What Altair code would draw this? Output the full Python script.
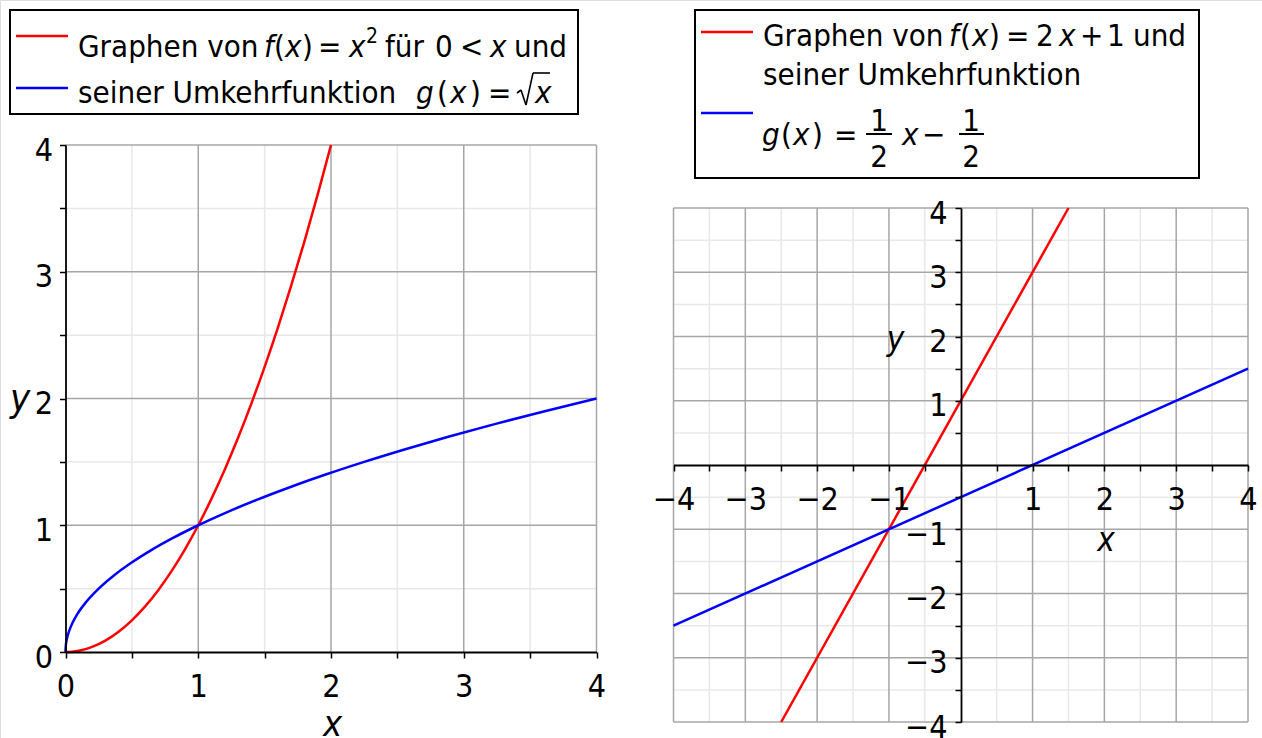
import altair as alt
import pandas as pd

FONT = "'Liberation Sans Narrow', 'DejaVu Sans Condensed', sans-serif"
TXT = 31      # legend text
LBL = 32      # tick labels

# ---- data -------------------------------------------------------------
# g(x) = sqrt(x) on [0, 4]; the parabola f(x) = x^2 on [0, 2] is the same point set mirrored
root_x = [0, 0.0025, 0.01, 0.0225, 0.04, 0.09, 0.16, 0.25, 0.36, 0.49, 0.64, 0.81,
          1.0, 1.21, 1.44, 1.69, 1.96, 2.25, 2.56, 2.89, 3.24, 3.61, 4.0]
root_y = [0, 0.05, 0.1, 0.15, 0.2, 0.3, 0.4, 0.5, 0.6, 0.7, 0.8, 0.9,
          1.0, 1.1, 1.2, 1.3, 1.4, 1.5, 1.6, 1.7, 1.8, 1.9, 2.0]

# f(x) = 2x + 1 and g(x) = x/2 - 1/2, clipped to the [-4, 4] window
lin_f_x = [-2.5, 1.5]
lin_f_y = [-4, 4]
lin_g_x = [-4, 4]
lin_g_y = [-2.5, 1.5]

# axis ticks and grid lines
left_ticks = [0, 0.5, 1, 1.5, 2, 2.5, 3, 3.5, 4]
left_major = [1, 2, 3, 4]
left_minor = [0.5, 1.5, 2.5, 3.5]
right_ticks = [-4, -3.5, -3, -2.5, -2, -1.5, -1, -0.5, 0.5, 1, 1.5, 2, 2.5, 3, 3.5, 4]
right_major = [-4, -3, -2, -1, 1, 2, 3, 4]
right_minor = [-3.5, -2.5, -1.5, -0.5, 0.5, 1.5, 2.5, 3.5]

RED = "#ff0000"
BLUE = "#0000ff"
MAJOR = "#a6a6a6"
MINOR = "#e8e8e8"


def make_axis(orient, ticks, offset, title, tx, ty, tsize, pad, loff=0):
    base = dict(
        orient=orient, values=ticks, offset=offset,
        labelExpr="datum.value % 1 === 0 ? format(datum.value, 'd') : ''",
        grid=False, zindex=1,
        domainColor="black", domainWidth=1.8,
        tickColor="black", tickWidth=1.5, tickSize=6,
        labelFont=FONT, labelFontSize=LBL, labelColor="black",
        labelPadding=pad, labelOverlap=False, labelFlush=False, labelBound=False,
        title=title, titleFont=FONT, titleFontSize=tsize, titleFontStyle="italic",
        titleFontWeight="normal", titleColor="black", titleAngle=0,
        titleX=tx, titleY=ty, titleAlign="center", titleBaseline="alphabetic",
    )
    if orient == "left":
        base.update(labelAlign="right", labelBaseline="middle", labelOffset=loff)
    return alt.Axis(**base)


def panel(xs, ys, xa, ya, major, minor, lo, hi, curves):
    layers = []
    for vals, col in ((minor, MINOR), (major, MAJOR)):
        g = pd.DataFrame({"v": vals, "lo": [lo] * len(vals), "hi": [hi] * len(vals)})
        layers.append(
            alt.Chart(g).mark_rule(color=col, strokeWidth=1.5).encode(
                x=alt.X("v:Q", scale=xs, axis=xa),
                y=alt.Y("lo:Q", scale=ys, axis=ya),
                y2="hi:Q",
            )
        )
        layers.append(
            alt.Chart(g).mark_rule(color=col, strokeWidth=1.5).encode(
                y=alt.Y("v:Q", scale=ys, axis=ya),
                x=alt.X("lo:Q", scale=xs, axis=xa),
                x2="hi:Q",
            )
        )
    for cx, cy, col in curves:
        d = pd.DataFrame({"x": cx, "y": cy})
        layers.append(
            alt.Chart(d).mark_line(color=col, strokeWidth=2.5, interpolate="monotone").encode(
                x=alt.X("x:Q", scale=xs, axis=xa),
                y=alt.Y("y:Q", scale=ys, axis=ya),
            )
        )
    return alt.layer(*layers)


# ---- left panel: x^2 and sqrt(x) ---------------------------------------
lxs = alt.Scale(domain=[0, 4], range=[65.5, 596.5], nice=False, zero=False)
lys = alt.Scale(domain=[0, 4], range=[652, 145], nice=False, zero=False)
lxa = make_axis("bottom", left_ticks, -86, "x", 332, 83, 36, 13)
lya = make_axis("left", left_ticks, -65.5, "y", -46, 410, 38, 7, 5)
left = panel(lxs, lys, lxa, lya, left_major, left_minor, 0, 4,
             [(root_y, root_x, RED), (root_x, root_y, BLUE)])

# ---- right panel: 2x+1 and its inverse ---------------------------------
rxs = alt.Scale(domain=[-4, 4], range=[673.5, 1248], nice=False, zero=False)
rys = alt.Scale(domain=[-4, 4], range=[722, 208], nice=False, zero=False)
rxa = make_axis("bottom", right_ticks, -273, "x", 1105.5, 85, 33, 13)
rya = make_axis("left", right_ticks, -961, "y", -66, 349, 33, 8, 5)
right = panel(rxs, rys, rxa, rya, right_major, right_minor, -4, 4,
              [(lin_f_x, lin_f_y, RED), (lin_g_x, lin_g_y, BLUE)])

# ---- legend boxes ------------------------------------------------------
ONE = alt.Data(values=[{}])


def box(x1, x2, y1, y2):
    return alt.Chart(ONE).mark_rect(fill="white", stroke="black", strokeWidth=2).encode(
        x=alt.value(x1), x2=alt.value(x2), y=alt.value(y1), y2=alt.value(y2))


def hline(x1, x2, y, col, w=2.5):
    return alt.Chart(ONE).mark_rule(color=col, strokeWidth=w).encode(
        x=alt.value(x1), x2=alt.value(x2), y=alt.value(y))


def seg(x1, y1, x2, y2, w=1.6):
    return alt.Chart(ONE).mark_rule(color="black", strokeWidth=w).encode(
        x=alt.value(x1), y=alt.value(y1), x2=alt.value(x2), y2=alt.value(y2))


def txt(s, x, y, italic=False, size=TXT, align="left"):
    return alt.Chart(ONE).mark_text(
        font=FONT, fontSize=size, fontStyle="italic" if italic else "normal",
        align=align, baseline="alphabetic", color="black",
    ).encode(x=alt.value(x), y=alt.value(y), text=alt.value(s))


legend = [
    # left: f(x) = x^2 for 0 < x and its inverse sqrt(x)
    box(10, 578, 10, 114),
    hline(16, 68, 36, RED),
    hline(16, 68, 88, BLUE),
    txt("Graphen von", 78, 57), txt("f", 264, 57, True), txt("(", 274, 57),
    txt("x", 285, 57, True), txt(")", 302, 57), txt("=", 318, 57),
    txt("x", 349, 57, True), txt("2", 366, 43, size=21), txt("für", 385, 57),
    txt("0", 435, 57), txt("<", 460, 57), txt("x", 490, 57, True), txt("und", 514, 57),
    txt("seiner Umkehrfunktion", 78, 103), txt("g", 416, 103, True), txt("(", 437, 103),
    txt("x", 450, 103, True), txt(")", 470, 103), txt("=", 488, 103),
    # radical sign drawn as strokes
    seg(517, 93, 521, 90), seg(521, 90, 526, 105), seg(526, 105, 533, 73), seg(533, 73, 550, 73),
    txt("x", 535, 103, True),

    # right: f(x) = 2x + 1 and its inverse
    box(695, 1199, 10, 178),
    hline(701, 753, 32, RED),
    hline(701, 753, 113, BLUE),
    txt("Graphen von", 763, 46), txt("f", 949, 46, True), txt("(", 960, 46),
    txt("x", 972, 46, True), txt(")", 989, 46), txt("=", 1006, 46), txt("2", 1036, 46),
    txt("x", 1059, 46, True), txt("+", 1080, 46), txt("1", 1107, 46), txt("und", 1133, 46),
    txt("seiner Umkehrfunktion", 763, 85),
    txt("g", 762, 145, True), txt("(", 781, 145), txt("x", 793, 145, True),
    txt(")", 812, 145), txt("=", 834, 145),
    txt("1", 879, 131, align="center"), hline(866, 892, 134, "black", 2),
    txt("2", 879, 167, align="center"),
    txt("x", 902, 145, True), txt("−", 922, 145),
    txt("1", 971, 131, align="center"), hline(959, 984, 134, "black", 2),
    txt("2", 971, 167, align="center"),
]

chart = (
    alt.layer(left, right, *legend)
    .resolve_scale(x="independent", y="independent")
    .resolve_axis(x="independent", y="independent")
    .properties(width=1262, height=738, padding=0,
                autosize=alt.AutoSizeParams(type="none"))
    .configure_view(stroke=None)
    .configure(background="white")
)

chart.save("out.html", embed_options={"renderer": "svg", "actions": False})
